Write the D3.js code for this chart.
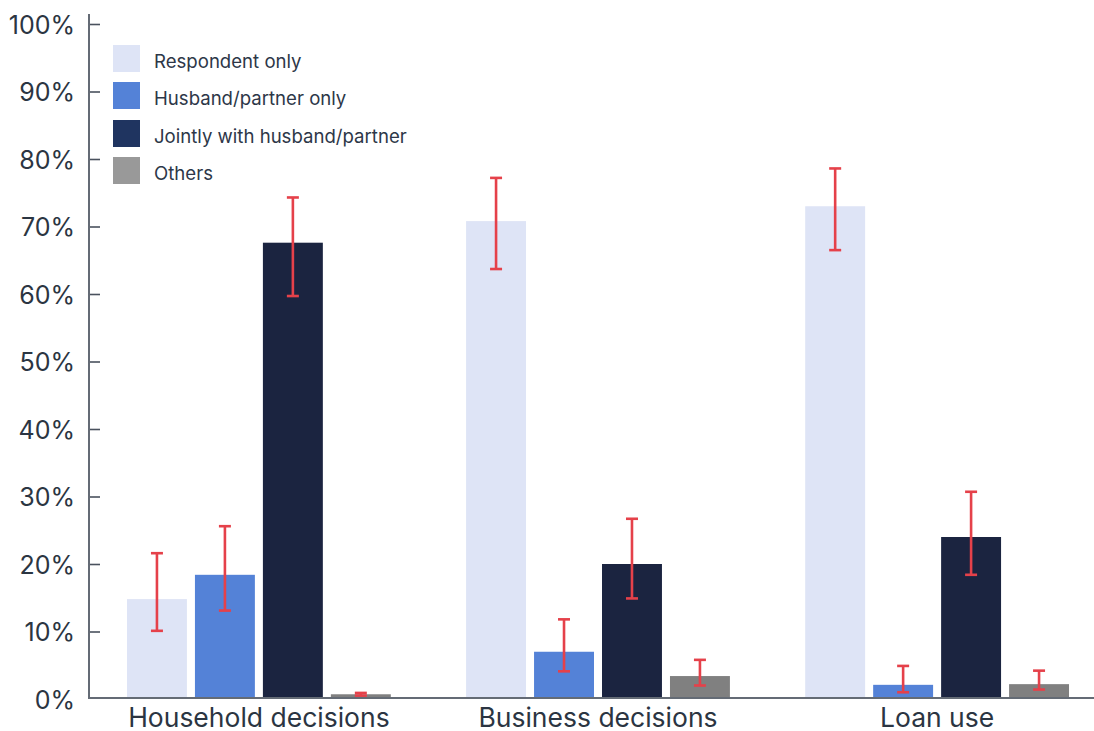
<!DOCTYPE html>
<html>
<head>
<meta charset="utf-8">
<script src="https://cdn.jsdelivr.net/npm/d3@7"></script>
<style>
  html, body { margin: 0; padding: 0; background: #ffffff; }
  svg { display: block; }
  svg text { font-family: "Inter", "Noto Sans", sans-serif; }
</style>
</head>
<body>
<svg id="chart" width="1094" height="731"></svg>
<script>
// Decision-making categories and respondent groups
const categories = ["Household decisions", "Business decisions", "Loan use"];
const seriesNames = ["Respondent only", "Husband/partner only", "Jointly with husband/partner", "Others"];

// Share of respondents (%) per category, one array per series
const respondentOnly = [14.8, 70.8, 73.0];
const husbandOnly    = [18.4, 7.0, 2.1];
const jointly        = [67.6, 20.0, 24.0];
const others         = [0.7, 3.4, 2.2];

// Confidence interval bounds (%) per series
const respondentLow  = [10.1, 63.7, 66.5];
const respondentHigh = [21.6, 77.2, 78.6];
const husbandLow     = [13.1, 4.1, 1.0];
const husbandHigh    = [25.6, 11.8, 4.9];
const jointlyLow     = [59.7, 14.9, 18.4];
const jointlyHigh    = [74.3, 26.7, 30.7];
const othersLow      = [0.5, 2.0, 1.4];
const othersHigh     = [0.9, 5.8, 4.2];

const yTicks = [0, 10, 20, 30, 40, 50, 60, 70, 80, 90, 100];

const barColors    = ["#dee4f6", "#5482d7", "#1b2440", "#808080"];
const legendColors = ["#dee4f6", "#5482d7", "#1f3460", "#999999"];
const FONT = "Inter, 'Noto Sans', sans-serif";

const values = [respondentOnly, husbandOnly, jointly, others];
const lows   = [respondentLow, husbandLow, jointlyLow, othersLow];
const highs  = [respondentHigh, husbandHigh, jointlyHigh, othersHigh];

const rows = [];
categories.forEach((c, ci) => {
  seriesNames.forEach((s, si) => {
    rows.push({ cat: c, series: s, si, value: values[si][ci], low: lows[si][ci], high: highs[si][ci] });
  });
});

const svg = d3.select("#chart");
const plotLeft = 89, plotRight = 1107, plotBottom = 699, plotTop = 24;

const x0 = d3.scaleBand().domain(categories).range([plotLeft, plotRight])
  .paddingInner(0.222).paddingOuter(0.112);
const x1 = d3.scaleBand().domain(seriesNames).range([0, x0.bandwidth()])
  .paddingInner(0.118).paddingOuter(0);
const y = d3.scaleLinear().domain([0, 100]).range([plotBottom, plotTop]);

// Bars
svg.append("g").selectAll("rect").data(rows).join("rect")
  .attr("x", d => x0(d.cat) + x1(d.series))
  .attr("y", d => y(d.value))
  .attr("width", x1.bandwidth())
  .attr("height", d => y(0) - y(d.value))
  .attr("fill", d => barColors[d.si]);

// Error bars
const errG = svg.append("g").attr("stroke", "#e5414a").attr("stroke-width", 2.6).attr("fill", "none");
const cx = d => x0(d.cat) + x1(d.series) + x1.bandwidth() / 2;
errG.selectAll("line.v").data(rows).join("line").attr("class", "v")
  .attr("x1", cx).attr("x2", cx)
  .attr("y1", d => y(d.low)).attr("y2", d => y(d.high));
errG.selectAll("line.t").data(rows).join("line").attr("class", "t")
  .attr("x1", d => cx(d) - 6).attr("x2", d => cx(d) + 6)
  .attr("y1", d => y(d.high)).attr("y2", d => y(d.high));
errG.selectAll("line.b").data(rows).join("line").attr("class", "b")
  .attr("x1", d => cx(d) - 6).attr("x2", d => cx(d) + 6)
  .attr("y1", d => y(d.low)).attr("y2", d => y(d.low));

// Y axis: ticks point inward, labels on the left
const yAxis = svg.append("g").attr("transform", `translate(${plotLeft},0)`)
  .call(d3.axisRight(y).tickValues(yTicks).tickFormat(d => d + "%").tickSize(11).tickSizeOuter(0))
  .attr("font-family", FONT);
yAxis.select(".domain").remove();
yAxis.selectAll(".tick line").attr("stroke", "#4a525e").attr("stroke-width", 1.6);
yAxis.selectAll(".tick text")
  .attr("x", -14).attr("dy", "0.36em").attr("text-anchor", "end")
  .attr("fill", "#2b3542").attr("font-size", 25).attr("font-family", FONT);
yAxis.selectAll(".tick").filter(d => d === 0).select("line").remove();
svg.append("line").attr("x1", plotLeft).attr("x2", plotLeft).attr("y1", 14).attr("y2", 698)
  .attr("stroke", "#646b75").attr("stroke-width", 2);

// X axis
const xAxis = svg.append("g").attr("transform", `translate(0,698)`)
  .call(d3.axisBottom(x0).tickSize(0).tickSizeOuter(0))
  .attr("font-family", FONT);
xAxis.select(".domain").remove();
xAxis.selectAll(".tick text").attr("y", 29).attr("dy", 0)
  .attr("fill", "#2b3542").attr("font-size", 26.5).attr("font-family", FONT);
svg.append("line").attr("x1", plotLeft - 1).attr("x2", 1094).attr("y1", 698).attr("y2", 698)
  .attr("stroke", "#646b75").attr("stroke-width", 2);

// Legend
const legend = svg.append("g").attr("transform", "translate(113,45)");
const li = legend.selectAll("g").data(seriesNames).join("g")
  .attr("transform", (d, i) => `translate(0,${[0, 37, 75, 112][i]})`);
li.append("rect").attr("width", 27).attr("height", 27).attr("fill", (d, i) => legendColors[i]);
li.append("text").attr("x", 41).attr("y", 16).attr("dy", "0.35em")
  .attr("font-size", 18.6).attr("font-family", FONT).attr("fill", "#2d3748").text(d => d);
</script>
</body>
</html>
